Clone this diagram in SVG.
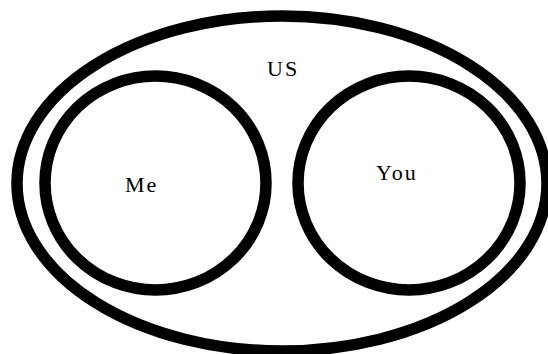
<svg xmlns="http://www.w3.org/2000/svg" width="548" height="354" viewBox="0 0 548 354">
<style>
.ring{fill:none;stroke:#000;stroke-width:11.5}
.lbl{font-family:"Liberation Serif","Times New Roman",serif;font-size:22px;fill:#000;letter-spacing:2px}
</style>
<rect width="548" height="354" fill="#fff"/>
<g id="us">
<ellipse class="ring" cx="282" cy="183.5" rx="265" ry="167.5"/>
<text class="lbl" x="267" y="76">US</text>
</g>
<g id="me">
<ellipse class="ring" cx="155.5" cy="183" rx="110.5" ry="107"/>
<text class="lbl" x="125" y="192">Me</text>
</g>
<g id="you">
<ellipse class="ring" cx="409" cy="183" rx="111" ry="107"/>
<text class="lbl" x="376" y="180">You</text>
</g>
<g id="connectors"/>
</svg>
